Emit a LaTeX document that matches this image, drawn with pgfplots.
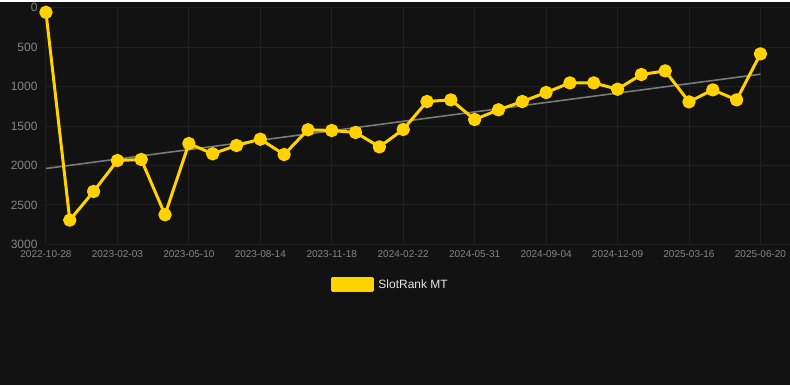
\documentclass[border=0pt]{standalone}
\usepackage{fontspec}
\setmainfont{Liberation Sans}
\usepackage{pgfplots}
\pgfplotsset{compat=1.18}
\definecolor{bg}{HTML}{121212}
\definecolor{gold}{HTML}{FFD200}
\definecolor{gridc}{HTML}{202020}
\definecolor{tickc}{HTML}{858585}
\definecolor{trend}{HTML}{7A7A7A}
\definecolor{legtext}{HTML}{E6E6E6}
\begin{document}
\begin{tikzpicture}[x=1pt,y=1pt]
\fill[bg] (0,0) rectangle (790,384);
\begin{axis}[
  at={(46pt,141pt)}, anchor=south west,
  scale only axis, width=744pt, height=237pt,
  xmin=0, xmax=31.22, ymin=0, ymax=3000, y dir=reverse,
  xtick={0,3,...,30},
  xticklabels={2022-10-28,2023-02-03,2023-05-10,2023-08-14,2023-11-18,2024-02-22,2024-05-31,2024-09-04,2024-12-09,2025-03-16,2025-06-20},
  ytick={0,500,...,3000},
  grid=major, major grid style={gridc, line width=1pt},
  axis line style={draw=none}, tick style={draw=none},
  ticklabel style={text=tickc},
  x tick label style={font=\fontsize{10}{12}\selectfont, yshift=-3pt},
  y tick label style={font=\fontsize{12}{14}\selectfont, xshift=-5pt},
  /pgf/number format/assume math mode=true,
  /pgf/number format/1000 sep={},
  clip=false,
  legend style={at={(0.4635,-0.171)}, anchor=center, draw=none, fill=none,
    text=legtext, font=\fontsize{12}{14}\selectfont},
  legend image code/.code={\fill[gold] (0pt,-6pt) rectangle (40pt,6pt);},
]
\addplot[trend, line width=1.6pt, forget plot] coordinates {(0,2038) (30,844)};
\addplot[gold, line width=3pt, line join=round, mark=*, mark size=5.2pt,
  mark options={draw=none, fill=gold}] coordinates {
(0,60) (1,2692) (2,2329) (3,1937) (4,1924) (5,2624) (6,1722) (7,1852) (8,1747) (9,1667)
(10,1861) (11,1548) (12,1557) (13,1582) (14,1764) (15,1544) (16,1190) (17,1169) (18,1418) (19,1295)
(20,1190) (21,1076) (22,954) (23,954) (24,1034) (25,848) (26,802) (27,1194) (28,1042) (29,1169)
(30,586)};
\addlegendentry{\hspace{2pt}SlotRank MT}
\end{axis}
\end{tikzpicture}
\end{document}
